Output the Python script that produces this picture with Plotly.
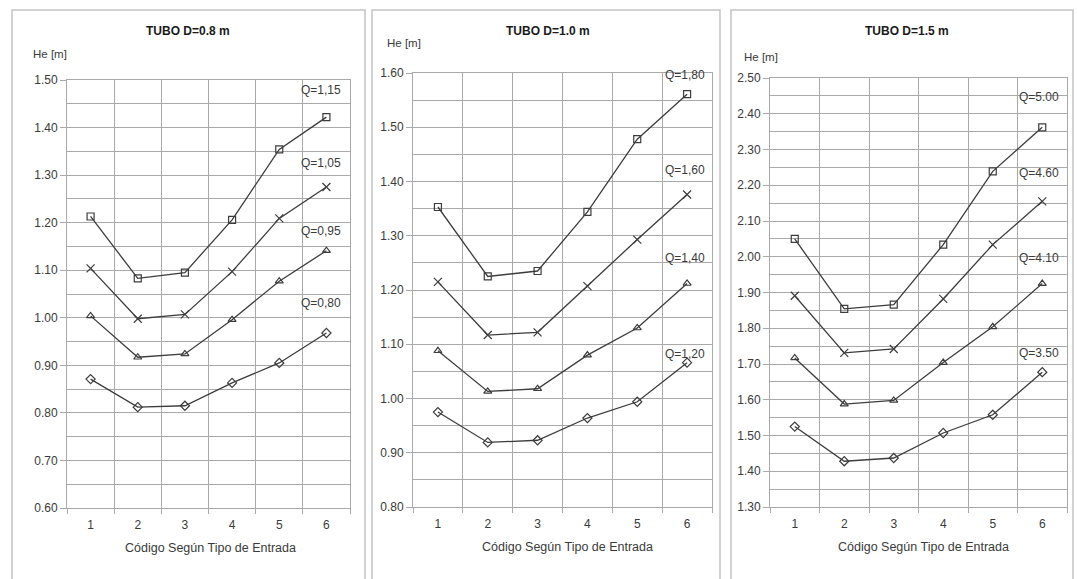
import plotly.graph_objects as go

W, H = 1077, 579

# ---------------- data ----------------
codes = [1, 2, 3, 4, 5, 6]
code_labels = ["1", "2", "3", "4", "5", "6"]

# TUBO D=0.8 m
d08_q115 = [1.213, 1.083, 1.095, 1.206, 1.354, 1.422]
d08_q105 = [1.104, 0.998, 1.007, 1.097, 1.209, 1.275]
d08_q095 = [1.004, 0.917, 0.924, 0.996, 1.077, 1.141]
d08_q080 = [0.871, 0.812, 0.815, 0.863, 0.905, 0.968]
d08_labels = ["Q=1,15", "Q=1,05", "Q=0,95", "Q=0,80"]

# TUBO D=1.0 m
d10_q180 = [1.353, 1.225, 1.235, 1.344, 1.478, 1.561]
d10_q160 = [1.215, 1.117, 1.122, 1.207, 1.293, 1.376]
d10_q140 = [1.088, 1.013, 1.018, 1.080, 1.130, 1.212]
d10_q120 = [0.975, 0.919, 0.923, 0.964, 0.994, 1.066]
d10_labels = ["Q=1,80", "Q=1,60", "Q=1,40", "Q=1,20"]

# TUBO D=1.5 m
d15_q500 = [2.050, 1.854, 1.866, 2.034, 2.239, 2.362]
d15_q460 = [1.891, 1.731, 1.742, 1.882, 2.034, 2.155]
d15_q410 = [1.717, 1.588, 1.598, 1.704, 1.804, 1.925]
d15_q350 = [1.525, 1.428, 1.437, 1.507, 1.558, 1.677]
d15_labels = ["Q=5.00", "Q=4.60", "Q=4.10", "Q=3.50"]

titles = ["TUBO D=0.8 m", "TUBO D=1.0 m", "TUBO D=1.5 m"]
y_title = "He [m]"
x_title = "Código Según Tipo de Entrada"

# ---------------- styling / layout ----------------
FONT = "Liberation Sans, Arial, sans-serif"
TXT = "#3a3a3a"
GRID = "#a9a9a9"
LINE = "#3c3c3c"
symbols = ["square-open", "x-thin-open", "triangle-up-open", "diamond-open"]
msize = [7, 8, 7, 7]

def px(x):
    return x / W

def py(y):
    return 1 - y / H

panels = [
    dict(series=[d08_q115, d08_q105, d08_q095, d08_q080], labels=d08_labels,
         box=(67, 350, 80, 508), yr=(0.60, 1.50), label_x=6.36,
         label_y=[1.479, 1.326, 1.183, 1.032],
         title_xy=(188, 31), ylab_xy=(50, 54), xt_xy=(210, 548),
         frame=(12, 365)),
    dict(series=[d10_q180, d10_q160, d10_q140, d10_q120], labels=d10_labels,
         box=(413, 712, 73, 507), yr=(0.80, 1.60), label_x=6.4,
         label_y=[1.596, 1.421, 1.259, 1.082],
         title_xy=(548, 31), ylab_xy=(404, 43), xt_xy=(567, 547),
         frame=(372, 720)),
    dict(series=[d15_q500, d15_q460, d15_q410, d15_q350], labels=d15_labels,
         box=(770, 1067, 78, 507), yr=(1.30, 2.50), label_x=6.37,
         label_y=[2.447, 2.235, 1.997, 1.732],
         title_xy=(907, 31), ylab_xy=(761, 57), xt_xy=(923, 547),
         frame=(731, 1073)),
]

fig = go.Figure()
annotations = []
shapes = []

for i, p in enumerate(panels):
    n = i + 1
    xa = "x" if n == 1 else f"x{n}"
    ya = "y" if n == 1 else f"y{n}"
    for s, vals in enumerate(p["series"]):
        fig.add_trace(go.Scatter(
            x=codes, y=vals, mode="lines+markers", xaxis=xa, yaxis=ya,
            line=dict(color=LINE, width=1.3),
            marker=dict(symbol=symbols[s], size=msize[s], color=LINE,
                        line=dict(color=LINE, width=1.2)),
            showlegend=False, hoverinfo="x+y"))
        annotations.append(dict(
            x=p["label_x"], y=p["label_y"][s], xref=xa, yref=ya,
            text=p["labels"][s],
            showarrow=False, xanchor="right", yanchor="middle",
            font=dict(family=FONT, size=12, color=TXT)))
    x0, x1, y0, y1 = p["box"]
    axx = dict(domain=[px(x0), px(x1)], range=[0.5, 6.5],
               tickmode="array", tickvals=codes, ticktext=code_labels,
               showgrid=False, zeroline=False, automargin=False,
               ticks="outside", ticklen=6, tickcolor="rgba(0,0,0,0)",
               tickfont=dict(family=FONT, size=12, color=TXT),
               showline=True, mirror=True, linecolor=GRID, linewidth=1,
               minor=dict(tick0=0.5, dtick=1, showgrid=True, gridcolor=GRID,
                          gridwidth=1, ticks="outside", ticklen=5,
                          tickcolor=GRID),
               anchor=ya, fixedrange=True)
    axy = dict(domain=[py(y1), py(y0)], range=list(p["yr"]),
               tick0=0, dtick=0.1, tickformat=".2f", automargin=False,
               showgrid=True, gridcolor=GRID, gridwidth=1, zeroline=False,
               ticks="outside", ticklen=6, tickcolor=GRID,
               tickfont=dict(family=FONT, size=12, color=TXT),
               showline=True, mirror=True, linecolor=GRID, linewidth=1,
               minor=dict(dtick=0.05, showgrid=True, gridcolor=GRID,
                          gridwidth=1),
               anchor=xa, fixedrange=True)
    fig.layout[f"xaxis{'' if n == 1 else n}"] = axx
    fig.layout[f"yaxis{'' if n == 1 else n}"] = axy

    tx, ty = p["title_xy"]
    annotations.append(dict(x=px(tx), y=py(ty), xref="paper", yref="paper",
                            text=f"<b>{titles[i]}</b>", showarrow=False,
                            xanchor="center", yanchor="middle",
                            font=dict(family=FONT, size=12, color="#1a1a1a")))
    lx, ly = p["ylab_xy"]
    annotations.append(dict(x=px(lx), y=py(ly), xref="paper", yref="paper",
                            text=y_title, showarrow=False,
                            xanchor="center", yanchor="middle",
                            font=dict(family=FONT, size=11.5, color=TXT)))
    qx, qy = p["xt_xy"]
    annotations.append(dict(x=px(qx), y=py(qy), xref="paper", yref="paper",
                            text=x_title, showarrow=False,
                            xanchor="center", yanchor="middle",
                            font=dict(family=FONT, size=12.5, color=TXT)))
    fx0, fx1 = p["frame"]
    shapes.append(dict(type="rect", xref="paper", yref="paper",
                       x0=px(fx0), x1=px(fx1), y0=-0.05, y1=py(10),
                       line=dict(color="#c4c4c4", width=1.5),
                       fillcolor="rgba(0,0,0,0)", layer="below"))

fig.update_layout(
    width=W, height=H, margin=dict(l=0, r=0, t=0, b=0, autoexpand=False),
    paper_bgcolor="white", plot_bgcolor="white",
    annotations=annotations, shapes=shapes,
    font=dict(family=FONT, color=TXT),
)

fig.write_html("out.html", config={"displayModeBar": False},
               post_script="document.body.style.margin='0px';"
                           "document.body.style.overflow='hidden';")
